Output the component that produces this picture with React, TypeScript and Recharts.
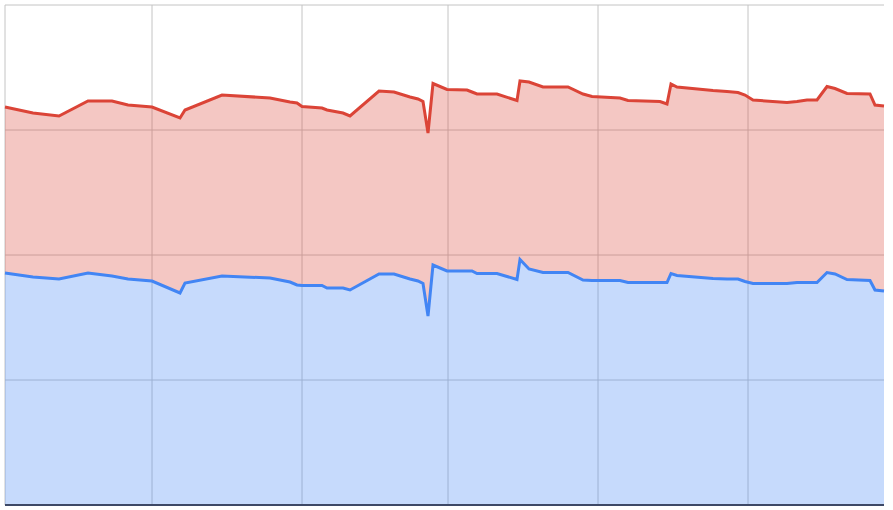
import React from "react";
import { ComposedChart, Area, Line, XAxis, YAxis, CartesianGrid } from "recharts";

// time position of each sample (arbitrary units along the x axis)
const times = [
  0, 28, 54, 83, 107, 123, 147, 175, 180, 217, 265, 285, 292, 297, 317, 322,
  338, 345, 374, 389, 405, 413, 418, 423, 428, 442, 462, 467, 472, 492, 512,
  515, 524, 538, 563, 578, 587, 615, 623, 655, 662, 666, 672, 708, 722, 733,
  740, 748, 782, 792, 802, 812, 822, 830, 842, 865, 870, 879,
];

// lower (blue) series
const blueValues = [
  46.4, 45.6, 45.2, 46.4, 45.8, 45.2, 44.8, 42.4, 44.4, 45.8, 45.4, 44.6, 44.0,
  43.9, 43.9, 43.4, 43.4, 43.0, 46.2, 46.2, 45.2, 44.8, 44.3, 37.8, 48.0, 46.8,
  46.8, 46.8, 46.3, 46.3, 45.1, 49.1, 47.2, 46.5, 46.5, 45.0, 44.9, 44.9, 44.5,
  44.5, 44.5, 46.3, 45.9, 45.3, 45.2, 45.2, 44.7, 44.3, 44.3, 44.5, 44.5, 44.5,
  46.5, 46.2, 45.1, 44.9, 43.0, 42.8,
];

// upper (red) series, stacked on top of the blue one
const redValues = [
  33.2, 32.8, 32.6, 34.4, 35.0, 34.8, 34.8, 35.0, 34.6, 36.2, 36.0, 36.0, 36.4,
  35.8, 35.5, 35.6, 35.0, 34.8, 36.6, 36.4, 36.4, 36.4, 36.4, 36.6, 36.3, 36.3,
  36.2, 35.8, 35.9, 35.9, 35.8, 35.7, 37.4, 37.1, 37.1, 37.2, 36.8, 36.5, 36.4,
  36.2, 35.7, 37.9, 37.7, 37.6, 37.5, 37.3, 37.3, 36.7, 36.2, 36.2, 36.5, 36.5,
  37.2, 37.1, 37.2, 37.3, 37.0, 37.0,
];

const xDomain = [0, 879];
const xTicks = [0, 147, 297, 443, 593, 743];
const yTicks = [0, 25, 50, 75, 100];

const data = times.map((t, i) => ({
  t,
  blue: blueValues[i],
  red: redValues[i],
}));

// vertical grid only at the x ticks
const verticalLines = ({ xAxis, offset }: any) =>
  xTicks.map((t) =>
    xAxis && typeof xAxis.scale === "function"
      ? xAxis.scale(t)
      : offset.left + ((t - xDomain[0]) / (xDomain[1] - xDomain[0])) * offset.width
  );

// horizontal grid only at the y ticks
const horizontalLines = ({ yAxis, offset }: any) =>
  yTicks.map((v) =>
    yAxis && typeof yAxis.scale === "function"
      ? yAxis.scale(v)
      : offset.top + offset.height - (v / 100) * offset.height
  );

const App = () => {
  return (
    <div style={{ position: "absolute", left: 0, top: 0, background: "#fff" }}>
      <ComposedChart
        width={893}
        height={510}
        data={data}
        margin={{ top: 5, right: 9, bottom: 4, left: 5 }}
      >
        <CartesianGrid
          stroke="#c4c4c4"
          verticalCoordinatesGenerator={verticalLines}
          horizontalCoordinatesGenerator={horizontalLines}
        />
        <XAxis
          dataKey="t"
          type="number"
          domain={xDomain}
          ticks={xTicks}
          interval={0}
          tick={() => <g />}
          tickLine={false}
          height={1}
          axisLine={{ stroke: "#3d4866", strokeWidth: 2 }}
        />
        <YAxis hide domain={[0, 100]} ticks={yTicks} />
        <Area
          type="linear"
          dataKey="blue"
          stackId="a"
          stroke="none"
          fill="#4285f4"
          fillOpacity={0.3}
          isAnimationActive={false}
          activeDot={false}
        />
        <Area
          type="linear"
          dataKey="red"
          stackId="a"
          stroke="#db4437"
          strokeWidth={3}
          fill="#db4437"
          fillOpacity={0.3}
          isAnimationActive={false}
          activeDot={false}
        />
        <Line
          type="linear"
          dataKey="blue"
          stroke="#4285f4"
          strokeWidth={3}
          dot={false}
          activeDot={false}
          isAnimationActive={false}
        />
      </ComposedChart>
    </div>
  );
};

export default App;
